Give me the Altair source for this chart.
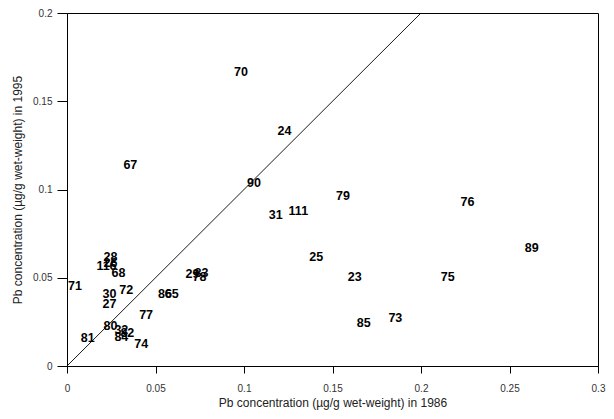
import altair as alt
import pandas as pd

labels = ["70", "24", "67", "90", "79", "76", "31", "111", "89", "25", "23", "75",
          "85", "73", "28", "26", "116", "68", "71", "30", "72", "27", "86", "65",
          "29", "83", "78", "77", "80", "81", "32", "82", "84", "74"]
pb1986 = [0.0983, 0.1229, 0.0358, 0.1056, 0.1559, 0.2263, 0.1179, 0.1307, 0.2626,
          0.1408, 0.1626, 0.2151, 0.1676, 0.1855, 0.0246, 0.0246, 0.0223, 0.0291,
          0.0045, 0.0240, 0.0335, 0.0240, 0.0553, 0.0592, 0.0709, 0.0760, 0.0749,
          0.0447, 0.0246, 0.0117, 0.0307, 0.0341, 0.0307, 0.0419]
pb1995 = [0.1666, 0.1331, 0.1139, 0.1037, 0.0963, 0.0929, 0.0856, 0.0878, 0.0669,
          0.0618, 0.0504, 0.0504, 0.0244, 0.0272, 0.0618, 0.0584, 0.0567, 0.0527,
          0.0453, 0.0408, 0.0431, 0.0351, 0.0408, 0.0408, 0.0521, 0.0527, 0.0504,
          0.0289, 0.0227, 0.0159, 0.0204, 0.0187, 0.0164, 0.0125]

line_x = [0.0, 0.2]
line_y = [0.0, 0.2]

df = pd.DataFrame({"label": labels, "x": pb1986, "y": pb1995})
ldf = pd.DataFrame({"x": line_x, "y": line_y})

xscale = alt.Scale(domain=[0, 0.3], nice=False, zero=True)
yscale = alt.Scale(domain=[0, 0.2], nice=False, zero=True)

xaxis = alt.Axis(
    title="Pb concentration (\u00b5g/g wet-weight) in 1986",
    values=[0, 0.05, 0.1, 0.15, 0.2, 0.25, 0.3],
    format="~g", grid=False, tickSize=7, labelPadding=10,
    labelFont="Liberation Sans", labelFontSize=10, labelColor="#333333",
    titleFont="Liberation Sans", titleFontSize=12, titleFontWeight="normal",
    titleColor="#222222", titleY=36, titleBaseline="middle",
    domainColor="black", tickColor="black", labelFlush=False,
)
yaxis = alt.Axis(
    title="Pb concentration (\u00b5g/g wet-weight) in 1995",
    values=[0, 0.05, 0.1, 0.15, 0.2],
    format="~g", grid=False, tickSize=10, labelPadding=5,
    labelFont="Liberation Sans", labelFontSize=10, labelColor="#333333",
    titleFont="Liberation Sans", titleFontSize=12, titleFontWeight="normal",
    titleColor="#222222", titleX=-50, titleBaseline="middle",
    domainColor="black", tickColor="black", labelFlush=False,
)

line = alt.Chart(ldf).mark_line(color="black", strokeWidth=0.9).encode(
    x=alt.X("x:Q", scale=xscale, axis=xaxis),
    y=alt.Y("y:Q", scale=yscale, axis=yaxis),
)

text = alt.Chart(df).mark_text(
    font="Liberation Sans", fontSize=12.5, fontWeight="bold", color="black",
    align="center", baseline="middle",
).encode(
    x=alt.X("x:Q", scale=xscale),
    y=alt.Y("y:Q", scale=yscale),
    text="label:N",
)

chart = alt.layer(line, text).properties(
    width=531, height=353,
    autosize=alt.AutoSizeParams(type="none"),
    padding={"left": 59, "top": 5, "right": 8, "bottom": 45},
).configure_view(stroke="black", strokeWidth=1)

chart.save("out.html", embed_options={"renderer": "svg", "actions": False})
